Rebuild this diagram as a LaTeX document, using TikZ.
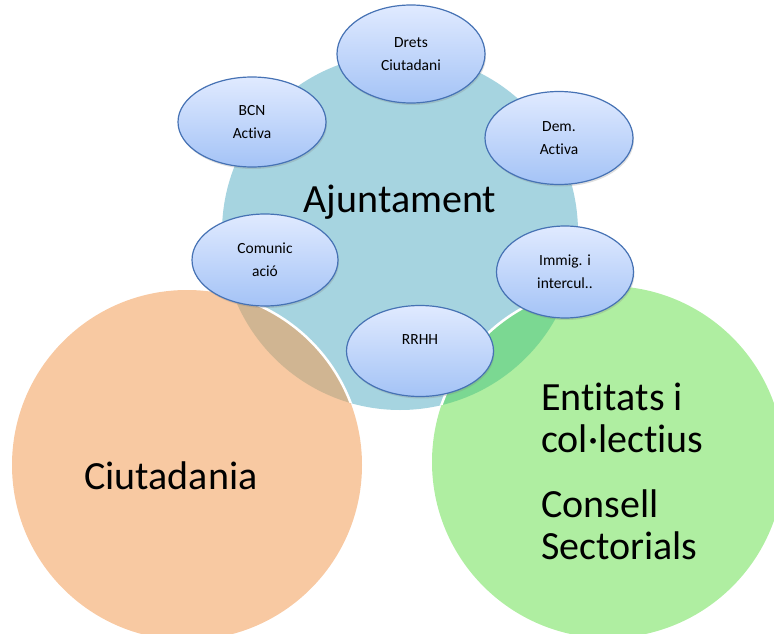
\documentclass[tikz,border=0pt]{standalone}
\usepackage{fontspec}
\setmainfont{Carlito}[Ligatures=NoCommon]
\usetikzlibrary{shapes.geometric,shadows}
\definecolor{ajblue}{RGB}{166,212,224}
\definecolor{ciutorange}{RGB}{248,201,162}
\definecolor{entgreen}{RGB}{175,238,161}
\definecolor{overtan}{RGB}{208,181,146}
\definecolor{overgreen}{RGB}{123,216,146}
\definecolor{bubbletop}{RGB}{224,234,255}
\definecolor{bubblebottom}{RGB}{164,195,246}
\definecolor{bubbleline}{RGB}{70,114,180}
\begin{document}
\begin{tikzpicture}[x=1pt, y=-1pt,
	bubble/.style={ellipse, draw=bubbleline, line width=1.2pt, top color=bubbletop, bottom color=bubblebottom,
		minimum width=148pt, minimum height=92pt, inner sep=0pt, align=center,
		font=\fontsize{15.5}{23}\selectfont, drop shadow={opacity=0.25, shadow xshift=1pt, shadow yshift=-2pt}},
	big/.style={font=\fontsize{40}{42}\selectfont, inner sep=0pt}]
	\useasboundingbox (0,0) rectangle (774,634);
	\clip (0,0) rectangle (774,634);
	%circles
	\fill[ajblue] (400,232) circle (178);
	\fill[ciutorange] (187,465) circle (175);
	\fill[entgreen] (608,462) circle (176);
	%overlaps
	\begin{scope}
		\clip (400,232) circle (178);
		\fill[overtan] (187,465) circle (175);
		\fill[overgreen] (608,462) circle (176);
		\draw[white, line width=2.5pt] (187,465) circle (175);
		\draw[white, line width=2.5pt] (608,462) circle (176);
	\end{scope}
	%
	%labels
	\node[big, anchor=base] (ajuntament) at (400,212) {Ajuntament};
	\node[big, anchor=base] (ciutadania) at (171,489) {Ciutadania};
	\node[big, anchor=west, align=left] (entitats) at (541,471) {Entitats i\\col·lectius\\[23pt]Consell\\Sectorials};
	%
	%bubbles
	\node[bubble, minimum height=98pt] (drets) at (411,54) {Drets\\Ciutadani};
	\node[bubble, minimum height=90pt] (bcn) at (252,122) {BCN\\Activa};
	\node[bubble, minimum height=93pt] (dem) at (559,138) {Dem.\\Activa};
	\node[bubble, minimum width=146pt] (comunic) at (265,260) {Comunic\\ació};
	\node[bubble, minimum width=137pt] (immig) at (565,272) {Immig. i\\intercul..};
	\node[bubble, minimum width=147pt, minimum height=91pt] (rrhh) at (420,351) {RRHH\\~};
\end{tikzpicture}
\end{document}
